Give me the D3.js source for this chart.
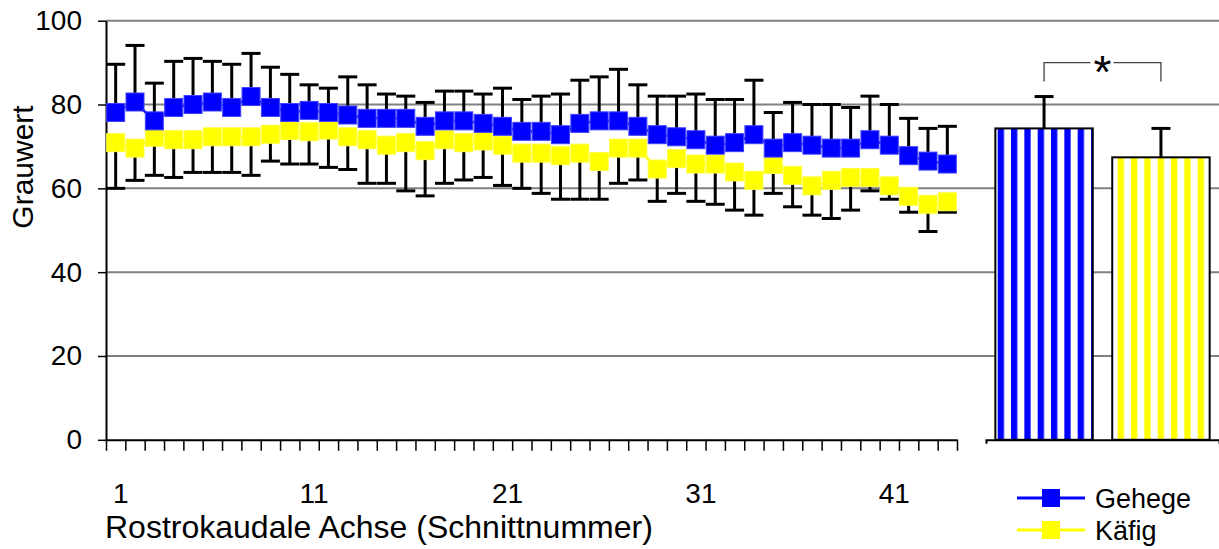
<!DOCTYPE html>
<html>
<head>
<meta charset="utf-8">
<script src="https://cdn.jsdelivr.net/npm/d3@7"></script>
<style>
    body { margin: 0; background: #fff; }
    svg { display: block; font-family: "Liberation Sans", Arial, sans-serif; }
</style>
</head>
<body>
<svg id="chart"></svg>
<script>
// Section numbers along the rostro-caudal axis
const sections = d3.range(1, 45);

// Gehege (enclosure) - mean and upper error
const gehegeMean = [78.1, 80.6, 76.1, 79.3, 80.0, 80.6, 79.3, 81.9, 79.3, 78.1,
                    78.6, 78.1, 77.5, 76.7, 76.7, 76.7, 74.8, 76.1, 76.1, 75.5,
                    74.8, 73.6, 73.6, 72.8, 75.5, 76.1, 76.1, 74.8, 72.8, 72.3,
                    71.6, 70.3, 70.9, 72.8, 69.6, 70.9, 70.3, 69.6, 69.6, 71.6,
                    70.3, 67.8, 66.5, 65.8];
const gehegeErr = [11.5, 13.5, 9.0, 11.0, 11.0, 9.7, 10.3, 10.3, 9.6, 9.1,
                   6.1, 5.8, 9.1, 8.0, 5.8, 5.3, 5.7, 7.1, 7.1, 7.0,
                   9.1, 7.6, 8.4, 9.7, 10.3, 10.5, 12.3, 9.9, 9.2, 9.7,
                   10.9, 10.9, 10.3, 13.0, 8.5, 9.6, 9.7, 10.4, 9.7, 10.4,
                   9.7, 8.9, 7.8, 9.0];

// Käfig (cage) - mean and lower error
const kaefigMean = [70.9, 69.6, 72.2, 71.6, 71.6, 72.3, 72.3, 72.3, 72.9, 73.8,
                    73.5, 73.9, 72.3, 71.6, 70.3, 70.9, 69.0, 71.6, 70.9, 71.3,
                    70.3, 68.4, 68.4, 67.8, 68.4, 66.4, 69.6, 69.6, 64.6, 67.1,
                    65.8, 65.8, 63.9, 61.9, 65.7, 63.1, 60.6, 61.9, 62.6, 62.6,
                    60.6, 58.1, 56.2, 56.8];
const kaefigErr = [10.9, 7.7, 9.1, 9.0, 7.8, 8.5, 8.5, 9.2, 6.4, 8.0,
                   7.7, 8.9, 7.8, 10.4, 9.1, 11.5, 10.8, 10.4, 8.9, 8.7,
                   9.6, 8.4, 9.6, 10.4, 11.0, 9.0, 8.4, 7.6, 7.7, 8.3,
                   8.9, 9.6, 9.1, 8.3, 6.9, 7.5, 7.0, 9.1, 7.8, 3.2,
                   3.2, 3.8, 6.5, 2.5];

const xLabels = [1, 11, 21, 31, 41];
const yTicks = [0, 20, 40, 60, 80, 100];

// Summary bars
const groups = ['Gehege', 'Käfig'];
const groupMean = [74.3, 67.4];
const groupErr = [7.6, 6.9];
const groupColors = ['#0000ff', '#ffff00'];
const signifLevels = [90, 85.5];
const signifLabel = '*';

const w = 1219;
const h = 549;

const svg = d3.select('#chart')
    .attr('width', w)
    .attr('height', h);

// Scales
const y = d3.scaleLinear().domain([0, 100]).range([439.8, 20.7]);
const x = d3.scaleBand().domain(sections).range([106, 957]);
const xEdge = d3.scaleLinear().domain([0, sections.length]).range([106, 957]);
const barX = d3.scaleBand().domain(groups).range([986, 1219]).paddingInner(0.1667).paddingOuter(0.08);
const cx = i => x(sections[i]) + x.bandwidth() / 2;

// Gridlines
svg.append('g')
    .selectAll('line')
    .data(yTicks.filter(d => d > 0))
    .join('line')
    .attr('x1', 106)
    .attr('x2', w)
    .attr('y1', d => y(d))
    .attr('y2', d => y(d))
    .attr('stroke', '#808080')
    .attr('stroke-width', 2);

// Y axis
const yAxis = svg.append('g')
    .attr('transform', 'translate(106,0)')
    .call(d3.axisLeft(y).tickValues(yTicks).tickSize(8).tickPadding(16).tickSizeOuter(0));
yAxis.select('.domain').attr('stroke-width', 2);
yAxis.selectAll('.tick line').attr('stroke-width', 1.5);
yAxis.selectAll('text').attr('font-size', 28).attr('fill', '#000').attr('font-family', null);

// X axis ticks between sections
const xAxis = svg.append('g')
    .attr('transform', `translate(0,${y(0)})`)
    .call(d3.axisBottom(xEdge).tickValues(d3.range(0, sections.length + 1)).tickSize(11).tickFormat('').tickSizeOuter(0));
xAxis.select('.domain').attr('stroke-width', 2);
xAxis.selectAll('.tick line').attr('stroke-width', 1.5);

// X labels
const xLab = svg.append('g')
    .attr('transform', `translate(0,${y(0)})`)
    .call(d3.axisBottom(x).tickValues(xLabels).tickSize(0).tickPadding(43));
xLab.select('.domain').remove();
xLab.selectAll('text').attr('font-size', 28).attr('fill', '#000').attr('font-family', null).attr('dx', 5);

// Error bars
const errG = svg.append('g').attr('stroke', '#000').attr('stroke-width', 3);
const capHalf = 9.5;
sections.forEach((s, i) => {
    const top = gehegeMean[i] + gehegeErr[i];
    const bot = kaefigMean[i] - kaefigErr[i];
    errG.append('line').attr('x1', cx(i)).attr('x2', cx(i)).attr('y1', y(gehegeMean[i])).attr('y2', y(top));
    errG.append('line').attr('x1', cx(i) - capHalf).attr('x2', cx(i) + capHalf).attr('y1', y(top)).attr('y2', y(top));
    errG.append('line').attr('x1', cx(i)).attr('x2', cx(i)).attr('y1', y(kaefigMean[i])).attr('y2', y(bot));
    errG.append('line').attr('x1', cx(i) - capHalf).attr('x2', cx(i) + capHalf).attr('y1', y(bot)).attr('y2', y(bot));
});

// Series
const drawSeries = (values, color, edge) => {
    const line = d3.line().x((d, i) => cx(i)).y(d => y(d));
    svg.append('path')
        .datum(values)
        .attr('d', line)
        .attr('fill', 'none')
        .attr('stroke', color)
        .attr('stroke-width', 2.5);
    svg.append('g')
        .selectAll('rect')
        .data(values)
        .join('rect')
        .attr('x', (d, i) => cx(i) - 9)
        .attr('y', d => y(d) - 9)
        .attr('width', 18)
        .attr('height', 18)
        .attr('fill', color)
        .attr('stroke', edge)
        .attr('stroke-width', 1);
};
drawSeries(kaefigMean, '#ffff00', '#ffff40');
drawSeries(gehegeMean, '#0000ff', '#4040ff');

// Stripe patterns for bars
const defs = svg.append('defs');
groupColors.forEach((c, i) => {
    const p = defs.append('pattern')
        .attr('id', `stripe${i}`)
        .attr('patternUnits', 'userSpaceOnUse')
        .attr('x', 997.7)
        .attr('y', 0)
        .attr('width', 13.33)
        .attr('height', 10);
    p.append('rect').attr('width', 13.33).attr('height', 10).attr('fill', '#fff');
    p.append('rect').attr('width', 6.3).attr('height', 10).attr('fill', c);
});

// Bars
svg.append('g')
    .selectAll('rect')
    .data(groups)
    .join('rect')
    .attr('x', d => barX(d))
    .attr('y', (d, i) => y(groupMean[i]))
    .attr('width', barX.bandwidth())
    .attr('height', (d, i) => y(0) - y(groupMean[i]))
    .attr('fill', (d, i) => `url(#stripe${i})`)
    .attr('stroke', '#000')
    .attr('stroke-width', 2);

// Bar error bars
const barErr = svg.append('g').attr('stroke', '#000').attr('stroke-width', 3);
groups.forEach((g, i) => {
    const bx = barX(g) + barX.bandwidth() / 2;
    const top = groupMean[i] + groupErr[i];
    barErr.append('line').attr('x1', bx).attr('x2', bx).attr('y1', y(groupMean[i])).attr('y2', y(top));
    barErr.append('line').attr('x1', bx - capHalf).attr('x2', bx + capHalf).attr('y1', y(top)).attr('y2', y(top));
});

// Bar baseline
const barAxis = svg.append('g')
    .attr('transform', `translate(0,${y(0)})`)
    .call(d3.axisBottom(barX).tickValues([]).tickSizeOuter(4));
barAxis.select('.domain').attr('stroke-width', 2);

// Significance bracket
const bL = barX(groups[0]) + barX.bandwidth() / 2;
const bR = barX(groups[1]) + barX.bandwidth() / 2;
const bMid = (bL + bR) / 2;
const bracket = svg.append('g').attr('stroke', '#404040').attr('stroke-width', 1.3).attr('fill', 'none');
bracket.append('path').attr('d', `M${bL},${y(signifLevels[1])}V${y(signifLevels[0])}H${bMid - 12}`);
bracket.append('path').attr('d', `M${bMid + 11},${y(signifLevels[0])}H${bR}V${y(signifLevels[1])}`);
svg.append('text')
    .attr('x', bMid)
    .attr('y', y(signifLevels[0]) + 25)
    .attr('text-anchor', 'middle')
    .attr('font-size', 46)
    .text(signifLabel);

// Axis titles
svg.append('text')
    .attr('transform', 'translate(33,167) rotate(-90)')
    .attr('text-anchor', 'middle')
    .attr('font-size', 30)
    .text('Grauwert');

svg.append('text')
    .attr('x', 105)
    .attr('y', 538)
    .attr('font-size', 32)
    .text('Rostrokaudale Achse (Schnittnummer)');

// Legend
const legend = svg.append('g').attr('transform', 'translate(1017,0)');
groups.forEach((g, i) => {
    const ly = [498, 530][i];
    legend.append('line').attr('x1', 0).attr('x2', 68).attr('y1', ly).attr('y2', ly)
        .attr('stroke', groupColors[i]).attr('stroke-width', 3);
    legend.append('rect').attr('x', 34 - 9).attr('y', ly - 9).attr('width', 18).attr('height', 18)
        .attr('fill', groupColors[i]);
    legend.append('text').attr('x', 78).attr('y', ly + 10).attr('font-size', 27).text(g);
});
</script>
</body>
</html>
